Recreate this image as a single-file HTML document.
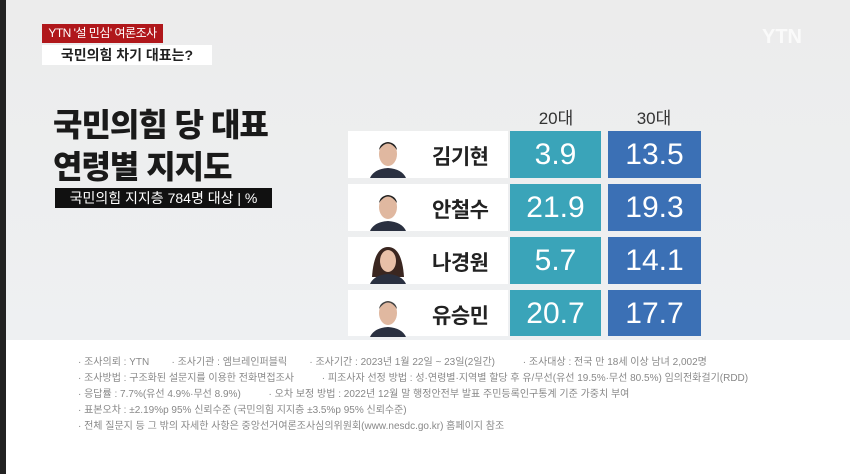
<!DOCTYPE html>
<html><head><meta charset="utf-8"><style>
body{margin:0;width:850px;height:474px;overflow:hidden;position:relative;background:#fff;font-family:"Liberation Sans","Noto Sans CJK KR",sans-serif}
.bg{position:absolute;left:0;top:0;width:850px;height:340px;background:linear-gradient(180deg,#ececec,#eef0f2)}
.strip{position:absolute;left:0;top:0;width:6px;height:474px;background:#222}
.a{position:absolute}
.red{left:42px;top:24px;width:121px;height:19px;background:#b0171b;color:#fff;font-size:12px;line-height:19px;text-align:center;letter-spacing:-0.5px}
.wb{left:42px;top:45px;width:170px;height:20px;background:#fff;color:#222;font-size:14px;line-height:20px;text-align:center;font-weight:bold}
.title{left:53px;top:104px;font-size:32px;font-weight:900;color:#1a1a1a;line-height:42px;letter-spacing:-1px}
.blk{left:55px;top:188px;width:217px;height:20px;background:#111;color:#fff;font-size:14px;line-height:20px;text-align:center}
.hd{top:104px;font-size:17px;color:#333;width:92px;text-align:center}
.nm{left:348px;width:160px;height:47px;background:#fff}
.nm span{position:absolute;left:84px;top:10px;font-size:21px;font-weight:bold;color:#222;letter-spacing:-0.5px}
.face{position:absolute;left:22px;top:4px;width:36px;height:43px}
.c{height:47px;color:#fff;font-size:30px;line-height:47px;text-align:center}
.t{left:510px;width:91px;background:#3aa4b9}
.b{left:608px;width:93px;background:#3b70b5}
.ft{left:78px;top:355px;font-size:10px;color:#888;line-height:16px;white-space:pre}
</style></head><body>
<div class="bg"></div><div class="strip"></div>
<div class="a" style="left:762px;top:26px;font-size:20px;font-weight:bold;color:#fafafa">YTN</div>
<div class="a red">YTN '설 민심' 여론조사</div>
<div class="a wb">국민의힘 차기 대표는?</div>
<div class="a title">국민의힘 당 대표<br>연령별 지지도</div>
<div class="a blk">국민의힘 지지층 784명 대상 | %</div>
<div class="a hd" style="left:510px">20대</div>
<div class="a hd" style="left:608px">30대</div>

<div class="a nm" style="top:131px"><svg class="face" viewBox="0 0 36 43"><path d="M0 43 Q4 34 18 33 Q32 34 36 43Z" fill="#2a3040"/><ellipse cx="18" cy="19" rx="9" ry="12" fill="#e0b8a0"/><path d="M9 15 Q18 2 27 15 Q26 8 18 7 Q10 8 9 15Z" fill="#222"/></svg><span>김기현</span></div>
<div class="a c t" style="top:131px">3.9</div><div class="a c b" style="top:131px">13.5</div>

<div class="a nm" style="top:184px"><svg class="face" viewBox="0 0 36 43"><path d="M0 43 Q4 34 18 33 Q32 34 36 43Z" fill="#2a3040"/><ellipse cx="18" cy="19" rx="9" ry="12" fill="#e0b8a0"/><path d="M9 15 Q18 2 27 15 Q26 8 18 7 Q10 8 9 15Z" fill="#222"/></svg><span>안철수</span></div>
<div class="a c t" style="top:184px">21.9</div><div class="a c b" style="top:184px">19.3</div>

<div class="a nm" style="top:237px"><svg class="face" viewBox="0 0 36 43"><path d="M2 36 Q4 6 18 6 Q32 6 34 36Z" fill="#3a2620"/><path d="M0 43 Q4 34 18 33 Q32 34 36 43Z" fill="#2a3040"/><ellipse cx="18" cy="20" rx="8" ry="11" fill="#e8c0a8"/></svg><span>나경원</span></div>
<div class="a c t" style="top:237px">5.7</div><div class="a c b" style="top:237px">14.1</div>

<div class="a nm" style="top:290px;height:46px"><svg class="face" viewBox="0 0 36 43"><path d="M0 43 Q4 34 18 33 Q32 34 36 43Z" fill="#2a3040"/><ellipse cx="18" cy="19" rx="9" ry="12" fill="#e0b8a0"/><path d="M9 15 Q18 2 27 15 Q26 8 18 7 Q10 8 9 15Z" fill="#444"/></svg><span>유승민</span></div>
<div class="a c t" style="top:290px;height:46px">20.7</div><div class="a c b" style="top:290px;height:46px">17.7</div>

<div class="a ft">· 조사의뢰 : YTN        · 조사기관 : 엠브레인퍼블릭        · 조사기간 : 2023년 1월 22일 ~ 23일(2일간)          · 조사대상 : 전국 만 18세 이상 남녀 2,002명
· 조사방법 : 구조화된 설문지를 이용한 전화면접조사          · 피조사자 선정 방법 : 성·연령별·지역별 할당 후 유/무선(유선 19.5%·무선 80.5%) 임의전화걸기(RDD)
· 응답률 : 7.7%(유선 4.9%·무선 8.9%)          · 오차 보정 방법 : 2022년 12월 말 행정안전부 발표 주민등록인구통계 기준 가중치 부여
· 표본오차 : ±2.19%p 95% 신뢰수준 (국민의힘 지지층 ±3.5%p 95% 신뢰수준)
· 전체 질문지 등 그 밖의 자세한 사항은 중앙선거여론조사심의위원회(www.nesdc.go.kr) 홈페이지 참조</div>
</body></html>
